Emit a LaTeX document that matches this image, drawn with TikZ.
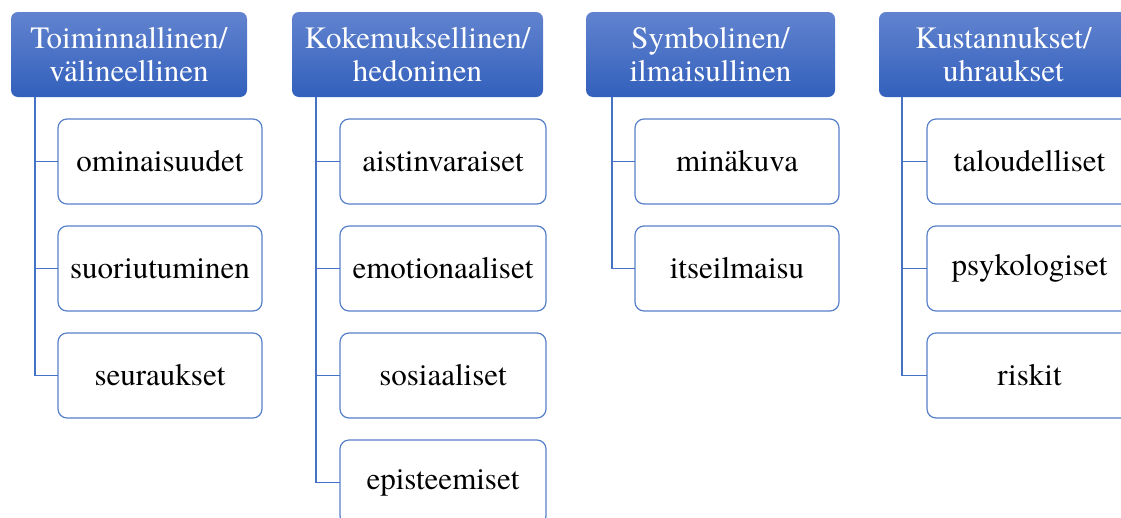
\documentclass[tikz,border=0pt]{standalone}
\usepackage{fontspec}
\setmainfont{Liberation Serif}
\newfontfamily\diafont{texgyretermes-regular.otf}
\usepackage{xcolor}
\usepackage{tikz}
\usetikzlibrary{positioning}
\definecolor{hdrtop}{RGB}{98,131,207}
\definecolor{hdrbot}{RGB}{50,96,188}
\definecolor{lineblue}{RGB}{68,114,196}
\tikzstyle{header} = [rectangle, rounded corners=7pt, minimum height=85pt, inner sep=0pt, outer sep=0pt, align=center, text=white, top color=hdrtop, bottom color=hdrbot, draw=none, anchor=north west, font=\diafont\fontsize{31}{33}\selectfont]
\tikzstyle{item} = [rectangle, rounded corners=9pt, minimum height=85pt, minimum width=205pt, inner sep=0pt, outer sep=0pt, text centered, draw=lineblue!90, line width=1.2pt, fill=white, font=\diafont\fontsize{31}{33}\selectfont]
\tikzstyle{conn} = [draw=lineblue, line width=1.4pt]

\begin{document}
\begin{tikzpicture}[x=1pt,y=-1pt]
	\useasboundingbox (0,0) rectangle (1121,517);
	\clip (0,0) rectangle (1121,517);

	% headers
	\node (hdra) [header, minimum width=236pt] at (11,12) {Toiminnallinen/\\välineellinen};
	\node (hdrb) [header, minimum width=251pt] at (292,12) {Kokemuksellinen/\\hedoninen};
	\node (hdrc) [header, minimum width=249pt] at (586,12) {Symbolinen/\\ilmaisullinen};
	\node (hdrd) [header, minimum width=249pt] at (879,12) {Kustannukset/\\uhraukset};

	% items
	\node (a1) [item, below right=22pt and 47pt of hdra.south west, minimum width=204pt] {ominaisuudet};
	\node (a2) [item, below=22pt of a1, minimum width=204pt] {suoriutuminen};
	\node (a3) [item, below=22pt of a2, minimum width=204pt] {seuraukset};

	\node (b1) [item, below right=22pt and 48pt of hdrb.south west, minimum width=206pt] {aistinvaraiset};
	\node (b2) [item, below=22pt of b1, minimum width=206pt] {emotionaaliset};
	\node (b3) [item, below=22pt of b2, minimum width=206pt] {sosiaaliset};
	\node (b4) [item, below=22pt of b3, minimum width=206pt] {episteemiset};

	\node (c1) [item, below right=22pt and 49pt of hdrc.south west, minimum width=204pt] {minäkuva};
	\node (c2) [item, below=22pt of c1, minimum width=204pt] {itseilmaisu};

	\node (d1) [item, below right=22pt and 48pt of hdrd.south west] {taloudelliset};
	\node (d2) [item, below=22pt of d1] {psykologiset};
	\node (d3) [item, below=22pt of d2] {riskit};

	% connectors
	\coordinate (ta) at ([xshift=24pt]hdra.south west);
	\coordinate (tb) at ([xshift=24pt]hdrb.south west);
	\coordinate (tc) at ([xshift=26pt]hdrc.south west);
	\coordinate (td) at ([xshift=23pt]hdrd.south west);

	\draw [conn] (ta) |- (a1.west);
	\draw [conn] (ta) |- (a2.west);
	\draw [conn] (ta) |- (a3.west);
	\draw [conn] (tb) |- (b1.west);
	\draw [conn] (tb) |- (b2.west);
	\draw [conn] (tb) |- (b3.west);
	\draw [conn] (tb) |- (b4.west);
	\draw [conn] (tc) |- (c1.west);
	\draw [conn] (tc) |- (c2.west);
	\draw [conn] (td) |- (d1.west);
	\draw [conn] (td) |- (d2.west);
	\draw [conn] (td) |- (d3.west);

\end{tikzpicture}
\end{document}
